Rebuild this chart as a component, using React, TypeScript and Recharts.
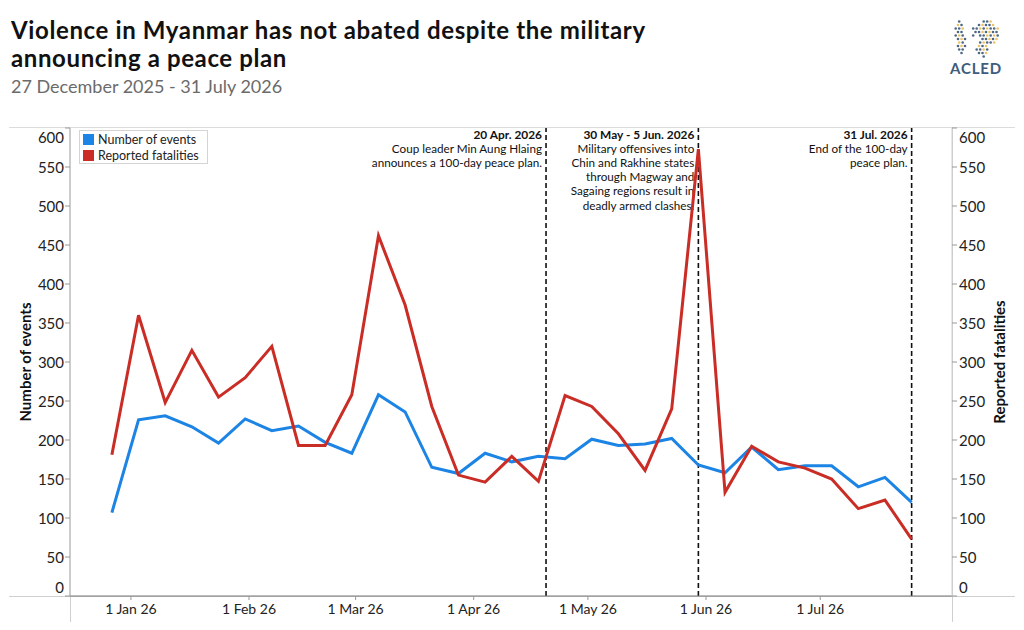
import React from 'react';
import { ComposedChart, Line, XAxis, YAxis, ReferenceLine } from 'recharts';

// ---------- data ----------
const weekStarts = [
  '2025-12-27', '2026-01-03', '2026-01-10', '2026-01-17', '2026-01-24', '2026-01-31',
  '2026-02-07', '2026-02-14', '2026-02-21', '2026-02-28', '2026-03-07', '2026-03-14',
  '2026-03-21', '2026-03-28', '2026-04-04', '2026-04-11', '2026-04-18', '2026-04-25',
  '2026-05-02', '2026-05-09', '2026-05-16', '2026-05-23', '2026-05-30', '2026-06-06',
  '2026-06-13', '2026-06-20', '2026-06-27', '2026-07-04', '2026-07-11', '2026-07-18',
  '2026-07-25',
];
const numberOfEvents = [
  107, 226, 231, 217, 196, 227, 212, 218, 197, 183, 258, 236, 165, 157, 183, 172,
  179, 176, 201, 193, 195, 202, 168, 158, 191, 162, 167, 167, 140, 152, 120,
];
const reportedFatalities = [
  181, 360, 248, 315, 255, 280, 320, 193, 193, 258, 462, 373, 243, 155, 146, 179,
  147, 257, 243, 208, 161, 240, 573, 133, 192, 172, 164, 150, 112, 123, 73,
];
const monthTickDates = ['2026-01-01', '2026-02-01', '2026-03-01', '2026-04-01', '2026-05-01', '2026-06-01', '2026-07-01'];
const yTicks = [0, 50, 100, 150, 200, 250, 300, 350, 400, 450, 500, 550, 600];

const annotationDates = ['2026-04-20', '2026-05-30', '2026-07-25'];
const annotationTexts = [
  ['20 Apr. 2026', 'Coup leader Min Aung Hlaing', 'announces a 100-day peace plan.'],
  ['30 May - 5 Jun. 2026', 'Military offensives into', 'Chin and Rakhine states', 'through Magway and', 'Sagaing regions result in', 'deadly armed clashes.'],
  ['31 Jul. 2026', 'End of the 100-day', 'peace plan.'],
];

const seriesNames = ['Number of events', 'Reported fatalities'];
const seriesColors = ['#1c84e4', '#c92d25'];

// ---------- helpers ----------
const BASE = Date.parse('2026-01-01T00:00:00Z');
const dayOf = (s: string) => (Date.parse(s + 'T00:00:00Z') - BASE) / 86400000;
const MONTHS = ['Jan', 'Feb', 'Mar', 'Apr', 'May', 'Jun', 'Jul', 'Aug', 'Sep', 'Oct', 'Nov', 'Dec'];
const fmtTick = (d: number) => {
  const dt = new Date(BASE + d * 86400000);
  return `${dt.getUTCDate()} ${MONTHS[dt.getUTCMonth()]} ${String(dt.getUTCFullYear()).slice(2)}`;
};

const data = weekStarts.map((w, i) => ({
  d: dayOf(w),
  events: numberOfEvents[i],
  fatalities: reportedFatalities[i],
}));

const FONT = 'Lato, "Open Sans", sans-serif';
const Y_MAX = 600;

const YTick = (props: any) => {
  const { x, y, payload, textAnchor } = props;
  const v = payload.value;
  const shift = v === Y_MAX ? 9 : v === 0 ? -9 : 0;
  return (
    <text x={x} y={y + shift} textAnchor={textAnchor} dominantBaseline="central" fontSize={15} fill="#222" fontFamily={FONT}>
      {v}
    </text>
  );
};

const AnnLabel = (props: any) => {
  const vb = props.viewBox || {};
  const lines: string[] = props.lines || [];
  const x = (vb.x ?? 0) - 4;
  const y0 = (vb.y ?? 0) + 10.5;
  return (
    <text textAnchor="end" fontFamily={FONT} fill="#111">
      {lines.map((l, i) => (
        <tspan key={i} x={x} y={y0 + i * 14.2} fontWeight={i === 0 ? 700 : 400} fontSize={i === 0 ? 11.9 : 11.7}>
          {l}
        </tspan>
      ))}
    </text>
  );
};

// decorative logo dots (globe mark)
const logoDots: { cx: number; cy: number; c: string }[] = [];
for (let r = 0; r < 12; r++) {
  for (let c = 0; c < 15; c++) {
    const x = c * 3.5 + (r % 2) * 1.2;
    const y = r * 3.5;
    const inLeft = (x - 7 - y * 0.12) ** 2 / 22 + (y - 20) ** 2 / 300 < 1;
    const inRight = (x - 35) ** 2 / 190 + (y - 15) ** 2 / 150 < 1 || ((x - 32) ** 2 / 40 + (y - 31) ** 2 / 60 < 1);
    const hole = (x - 26) ** 2 + (y - 21) ** 2 < 18;
    if ((inLeft || inRight) && !hole) {
      logoDots.push({ cx: x, cy: y, c: (r * 7 + c * 3) % 5 < 2 ? '#e9b949' : '#2f4c6e' });
    }
  }
}

export default function App() {
  return (
    <div style={{ position: 'absolute', left: 0, top: 0, width: 1024, height: 630, background: '#fff', fontFamily: FONT, overflow: 'hidden' }}>
      {/* frame lines */}
      <svg width={1024} height={630} style={{ position: 'absolute', left: 0, top: 0 }}>
        <line x1={9} x2={1015} y1={127.5} y2={127.5} stroke="#dcdcdc" strokeWidth={1} />
        <line x1={9} x2={1015} y1={596.5} y2={596.5} stroke="#cfcfcf" strokeWidth={1} />
        <line x1={70.5} x2={70.5} y1={596} y2={622} stroke="#d0d0d0" strokeWidth={1} />
        <line x1={952.5} x2={952.5} y1={127} y2={622} stroke="#d0d0d0" strokeWidth={1} />
      </svg>

      <div style={{ position: 'absolute', left: 0, top: 0 }}>
        <ComposedChart width={1024} height={630} data={data} margin={{ top: 128, right: 0, bottom: 0, left: 0 }}>
          <XAxis
            dataKey="d"
            type="number"
            domain={[-16, 215.6]}
            ticks={monthTickDates.map(dayOf)}
            tickFormatter={fmtTick}
            allowDataOverflow
            height={34}
            axisLine={{ stroke: '#777' }}
            tickLine={{ stroke: '#999' }}
            tickSize={4}
            tickMargin={4}
            tick={{ fontSize: 14, fill: '#222', fontFamily: FONT }}
          />
          <YAxis
            yAxisId="left"
            domain={[0, Y_MAX]}
            ticks={yTicks}
            width={70}
            tickSize={5}
            tickMargin={1}
            axisLine={{ stroke: '#999' }}
            tickLine={{ stroke: '#999' }}
            tick={<YTick />}
            interval={0}
          />
          <YAxis
            yAxisId="right"
            orientation="right"
            domain={[0, Y_MAX]}
            ticks={yTicks}
            width={72}
            tickSize={5}
            tickMargin={2}
            axisLine={{ stroke: '#ccc' }}
            tickLine={{ stroke: '#999' }}
            tick={<YTick />}
            interval={0}
          />
          {annotationDates.map((a, i) => (
            <ReferenceLine
              key={a}
              yAxisId="left"
              x={dayOf(a)}
              stroke="#111"
              strokeWidth={1.6}
              strokeDasharray="5 3"
              label={<AnnLabel lines={annotationTexts[i]} />}
            />
          ))}
          <Line yAxisId="left" type="linear" dataKey="events" name={seriesNames[0]} stroke={seriesColors[0]} strokeWidth={3} dot={false} isAnimationActive={false} />
          <Line yAxisId="right" type="linear" dataKey="fatalities" name={seriesNames[1]} stroke={seriesColors[1]} strokeWidth={3} dot={false} isAnimationActive={false} />
        </ComposedChart>
      </div>

      {/* axis titles and logo */}
      <svg width={1024} height={630} style={{ position: 'absolute', left: 0, top: 0, pointerEvents: 'none' }}>
        <text transform="translate(25,362) rotate(-90)" textAnchor="middle" dominantBaseline="central" fontSize={15} fontWeight={700} fill="#111" fontFamily={FONT}>
          Number of events
        </text>
        <text transform="translate(999,362) rotate(-90)" textAnchor="middle" dominantBaseline="central" fontSize={15} fontWeight={700} fill="#111" fontFamily={FONT}>
          Reported fatalities
        </text>
        <g transform="translate(951,18)">
          {logoDots.map((d, i) => (
            <circle key={i} cx={d.cx} cy={d.cy} r={1.3} fill={d.c} opacity={0.85} />
          ))}
        </g>
        <text x={976} y={74} textAnchor="middle" fontSize={15} fontWeight={700} letterSpacing={0.8} fill="#3e5c7b" fontFamily={FONT}>
          ACLED
        </text>
      </svg>

      {/* legend */}
      <div style={{ position: 'absolute', left: 79, top: 130, width: 124, height: 32, border: '1px solid #d4d4d4', background: '#fff', padding: '0 0 0 3px', boxSizing: 'content-box' }}>
        {seriesNames.map((n, i) => (
          <div key={n} style={{ display: 'flex', alignItems: 'center', height: 16, fontSize: 12.5, color: '#222' }}>
            <span style={{ display: 'inline-block', width: 11, height: 11, background: seriesColors[i], marginRight: 4 }} />
            <span>{n}</span>
          </div>
        ))}
      </div>

      {/* title */}
      <div style={{ position: 'absolute', left: 11, top: 16, fontSize: 24, lineHeight: '27.5px', letterSpacing: 0.62, fontWeight: 700, color: '#111', width: 760 }}>
        Violence in Myanmar has not abated despite the military
        <br />
        announcing a peace plan
      </div>
      <div style={{ position: 'absolute', left: 11, top: 75, fontSize: 18, lineHeight: 'normal', color: '#6b6b6b' }}>
        27 December 2025 - 31 July 2026
      </div>
    </div>
  );
}
